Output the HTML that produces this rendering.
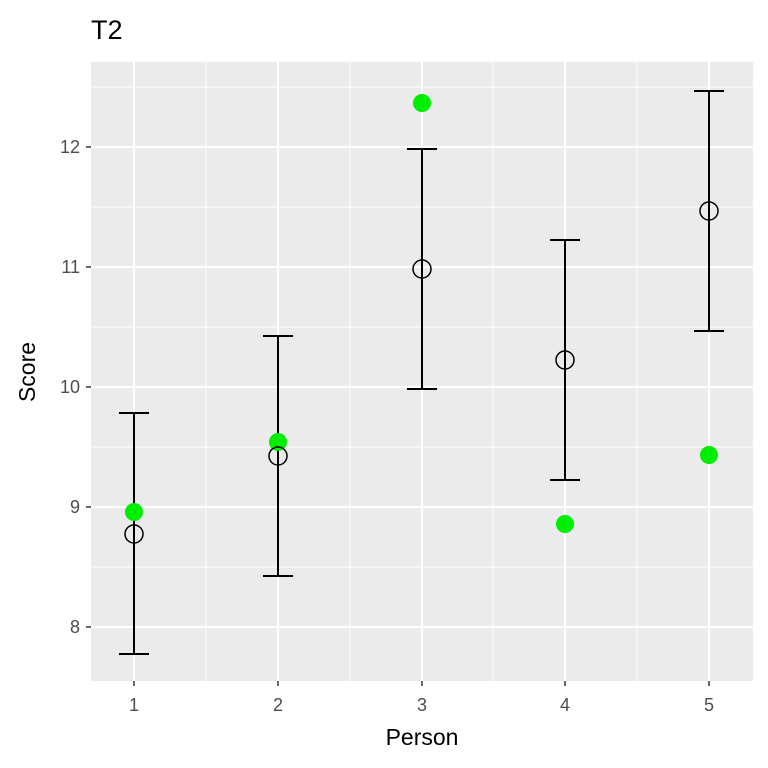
<!DOCTYPE html>
<html><head><style>body{margin:0;background:#fff}svg{display:block}</style></head><body>
<svg width="768" height="768" xmlns="http://www.w3.org/2000/svg" font-family="Liberation Sans, sans-serif">
<rect width="768" height="768" fill="#fff"/>
<rect x="91" y="62" width="662" height="619" fill="#ebebeb"/>
<g stroke="#fff" stroke-width="1">
<line x1="91" x2="753" y1="567" y2="567"/><line x1="91" x2="753" y1="447" y2="447"/><line x1="91" x2="753" y1="327" y2="327"/><line x1="91" x2="753" y1="207" y2="207"/><line x1="91" x2="753" y1="87" y2="87"/>
<line y1="62" y2="681" x1="206" x2="206"/><line y1="62" y2="681" x1="350" x2="350"/><line y1="62" y2="681" x1="493" x2="493"/><line y1="62" y2="681" x1="637" x2="637"/>
</g>
<g stroke="#fff" stroke-width="2">
<line x1="91" x2="753" y1="627" y2="627"/><line x1="91" x2="753" y1="507" y2="507"/><line x1="91" x2="753" y1="387" y2="387"/><line x1="91" x2="753" y1="267" y2="267"/><line x1="91" x2="753" y1="147" y2="147"/>
<line y1="62" y2="681" x1="134" x2="134"/><line y1="62" y2="681" x1="278" x2="278"/><line y1="62" y2="681" x1="422" x2="422"/><line y1="62" y2="681" x1="565" x2="565"/><line y1="62" y2="681" x1="709" x2="709"/>
</g>
<g stroke="#333" stroke-width="1.5">
<line x1="86" x2="91" y1="627" y2="627"/><line x1="86" x2="91" y1="507" y2="507"/><line x1="86" x2="91" y1="387" y2="387"/><line x1="86" x2="91" y1="267" y2="267"/><line x1="86" x2="91" y1="147" y2="147"/>
<line y1="681" y2="686" x1="134" x2="134"/><line y1="681" y2="686" x1="278" x2="278"/><line y1="681" y2="686" x1="422" x2="422"/><line y1="681" y2="686" x1="565" x2="565"/><line y1="681" y2="686" x1="709" x2="709"/>
</g>
<g fill="#4d4d4d" font-size="18" text-anchor="end">
<text x="80" y="633">8</text><text x="80" y="513">9</text><text x="80" y="393">10</text><text x="80" y="273">11</text><text x="80" y="153">12</text>
</g>
<g fill="#4d4d4d" font-size="18" text-anchor="middle">
<text x="134" y="711">1</text><text x="278" y="711">2</text><text x="422" y="711">3</text><text x="565" y="711">4</text><text x="709" y="711">5</text>
</g>
<text x="422" y="745" font-size="23" text-anchor="middle">Person</text>
<text transform="translate(35,372) rotate(-90)" font-size="23" text-anchor="middle">Score</text>
<text x="91" y="39" font-size="27">T2</text>
<g stroke="#000" stroke-width="2" fill="none">
<path d="M119 413H149M134 413V654M119 654H149"/>
<path d="M263 336H293M278 336V576M263 576H293"/>
<path d="M407 149H437M422 149V389M407 389H437"/>
<path d="M550 240H580M565 240V480M550 480H580"/>
<path d="M694 91H724M709 91V331M694 331H724"/>
</g>
<g fill="#00ee00">
<circle cx="134" cy="512" r="9"/><circle cx="278" cy="442" r="9"/><circle cx="422" cy="103" r="9"/><circle cx="565" cy="524" r="9"/><circle cx="709" cy="455" r="9"/>
</g>
<g fill="none" stroke="#000" stroke-width="1.5">
<circle cx="134" cy="534" r="9"/><circle cx="278" cy="456" r="9"/><circle cx="422" cy="269" r="9"/><circle cx="565" cy="360" r="9"/><circle cx="709" cy="211" r="9"/>
</g>
</svg>
</body></html>
